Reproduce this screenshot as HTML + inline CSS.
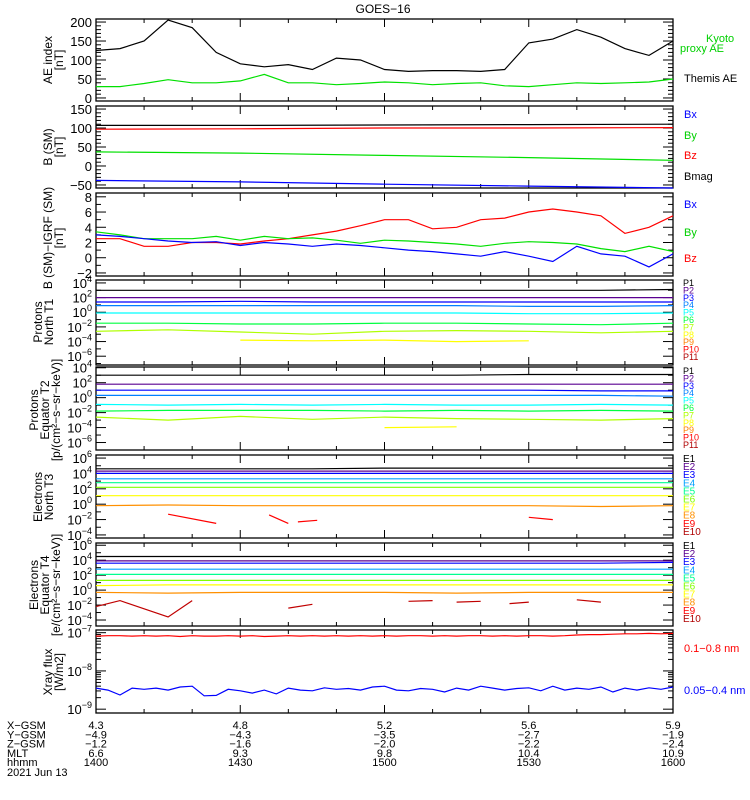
<!DOCTYPE html>
<html><head><meta charset="utf-8"><style>
html,body{margin:0;padding:0;background:#fff}
svg{display:block;font-family:"Liberation Sans",sans-serif}
</style></head><body>
<svg id="chart" width="750" height="800" viewBox="0 0 750 800">
<text x="383" y="13" font-size="12" text-anchor="middle">GOES−16</text>
</svg>
<script>
// ---------- data ----------
const aeTimes=[0,5,10,15,20,25,30,35,40,45,50,55,60,65,70,75,80,85,90,95,100,105,110,115,120];
const themisAE=[125,130,150,205,185,120,90,82,88,75,105,100,75,70,72,72,70,75,145,155,180,160,130,112,150];
const kyotoAE=[30,30,38,48,40,40,45,62,40,40,35,38,42,40,35,38,40,32,30,35,40,38,40,42,50];
const bTimes=[0,30,60,90,120];
const bBx=[-38,-42,-48,-53,-58];
const bBy=[37,34,28,22,15];
const bBz=[97,98,100,100,101];
const bMag=[107,107,108,109,110];
const dTimes=[0,5,10,15,20,25,30,35,40,45,50,55,60,65,70,75,80,85,90,95,100,105,110,115,120];
const dBx=[3,2.8,2.5,2.2,2,2.1,1.6,2,1.8,1.5,1.8,1.6,1.3,1,0.8,0.5,0.2,0.8,0.2,-0.5,1.5,0.5,0.2,-1.2,0.5];
const dBy=[3.4,3,2.5,2.5,2.5,2.8,2.3,2.8,2.5,2.6,2.3,1.9,2.3,2.2,2,1.8,1.5,1.9,2.1,2.0,1.8,1.2,0.8,1.5,0.8];
const dBz=[2.5,2.5,1.5,1.5,2,2,1.8,2.2,2.5,3,3.5,4.2,5,5,3.8,4,5,5.2,6,6.4,6,5.5,3.2,4,5.5];
const fTimes=[0,15,30,45,60,75,90,105,120];
const p1T1=[[3,3,3,3,3,3,3,3,3.1],[2,2,2,2,2,2,2,2,2],[1.4,1.4,1.5,1.4,1.4,1.4,1.4,1.4,1.4],[0.9,0.9,0.9,0.9,0.9,0.9,0.8,0.8,0.9],[-0.1,-0.1,-0.1,-0.1,-0.1,-0.1,-0.2,-0.2,-0.1],[-1.5,-1.5,-1.6,-1.6,-1.5,-1.5,-1.6,-1.7,-1.5],[-2.6,-2.4,-2.7,-3,-2.6,-2.5,-2.6,-2.8,-2.6],[null,null,-3.8,-3.9,-3.8,-4,-3.9,null,null]];
const p2T2=[[3,3,3,3,3,3,3.1,3.1,3.1],[1.8,1.8,1.8,1.8,1.8,1.8,1.8,1.8,1.8],[1,1,1,1,1,1,1,0.9,0.9],[0.3,0.3,0.3,0.3,0.3,0.3,0.3,0.3,0.2],[-0.9,-1,-0.9,-1,-0.9,-1,-1,-0.9,-1],[-1.8,-1.7,-1.7,-1.7,-1.8,-1.7,-1.8,-1.7,-1.8],[-2.6,-3,-2.5,-2.9,-2.6,-2.8,-2.9,-3,-2.8],[null,null,-3.9,null,-4,-3.9,null,null,null]];
const e3T3=[[4.6,4.6,4.6,4.6,4.7,4.7,4.7,4.7,4.7],[4.3,4.3,4.3,4.3,4.3,4.3,4.3,4.3,4.3],[4,4,4,4,4,4,4,4,4],[3.3,3.3,3.3,3.3,3.3,3.3,3.3,3.3,3.3],[2.8,2.8,2.8,2.8,2.8,2.8,2.8,2.8,2.8],[2.2,2.2,2.2,2.2,2.2,2.2,2.2,2.2,2.2],[1.1,1.1,1.1,1.1,1.1,1.1,1.1,1.1,1.1],[-0.2,-0.1,-0.2,-0.2,-0.2,-0.2,-0.2,-0.3,-0.2]];
const e9Times=[15,25,26,36,40,41,42,46,47,90,95];
const e9Vals=[-1.3,-2.5,null,-1.4,-2.5,null,-2.3,-2.1,null,-1.7,-2.0];
const e4T4=[[4.5,4.5,4.5,4.5,4.5,4.5,4.5,4.5,4.5],[3.9,3.9,3.9,3.9,3.9,3.9,3.9,3.9,3.9],[3.6,3.6,3.6,3.6,3.6,3.6,3.6,3.6,3.7],[2.8,2.8,2.8,2.8,2.8,2.8,2.8,2.8,2.8],[2.1,2.1,2.1,2.1,2.1,2.1,2.1,2.1,2.1],[1.3,1.3,1.3,1.3,1.3,1.3,1.3,1.3,1.3],[0.6,0.7,0.7,0.7,0.7,0.7,0.7,0.7,0.7],[-0.3,-0.4,-0.3,-0.3,-0.3,-0.4,-0.3,-0.3,-0.3]];
const e10Times=[0,5,15,20,30,31,40,45,46,65,70,71,75,80,81,86,90,91,100,105];
const e10Vals=[-2.2,-1.4,-3.6,-1.4,null,null,-2.4,-1.9,null,-1.5,-1.4,null,-1.6,-1.5,null,-1.8,-1.6,null,-1.3,-1.6];
const xTimes=[0,2.5,5,7.5,10,12.5,15,17.5,20,22.5,25,27.5,30,32.5,35,37.5,40,42.5,45,47.5,50,52.5,55,57.5,60,62.5,65,67.5,70,72.5,75,77.5,80,82.5,85,87.5,90,92.5,95,97.5,100,102.5,105,107.5,110,112.5,115,117.5,120];
const xLong=[-7.09,-7.08,-7.08,-7.09,-7.08,-7.09,-7.08,-7.1,-7.08,-7.09,-7.09,-7.08,-7.09,-7.08,-7.1,-7.09,-7.08,-7.09,-7.08,-7.09,-7.08,-7.09,-7.08,-7.09,-7.08,-7.09,-7.08,-7.08,-7.09,-7.08,-7.09,-7.08,-7.08,-7.09,-7.08,-7.09,-7.08,-7.08,-7.09,-7.08,-7.06,-7.05,-7.05,-7.04,-7.03,-7.03,-7.02,-7.03,-7.02];
const xShort=[-8.45,-8.5,-8.63,-8.45,-8.48,-8.45,-8.5,-8.42,-8.4,-8.65,-8.64,-8.48,-8.52,-8.58,-8.5,-8.6,-8.45,-8.5,-8.52,-8.44,-8.48,-8.46,-8.5,-8.42,-8.4,-8.5,-8.52,-8.46,-8.48,-8.55,-8.45,-8.5,-8.4,-8.45,-8.5,-8.46,-8.44,-8.52,-8.4,-8.5,-8.45,-8.48,-8.42,-8.55,-8.45,-8.5,-8.44,-8.48,-8.42];
const tickVals=[["4.3","−4.9","−1.2","6.6","1400"],["4.8","−4.3","−1.6","9.3","1430"],["5.2","−3.5","−2.0","9.8","1500"],["5.6","−2.7","−2.2","10.4","1530"],["5.9","−1.9","−2.4","10.9","1600"]];
// ---------- layout ----------
const svg=document.getElementById('chart');
const NS='http://www.w3.org/2000/svg';
const X0=96,X1=673;
function xs(t){return X0+(X1-X0)*t/120;}
function mk(tag,attrs,parent){const e=document.createElementNS(NS,tag);for(const k in attrs)e.setAttribute(k,attrs[k]);(parent||svg).appendChild(e);return e;}
function panel(top,h,lo,hi){return {top:top,h:h,lo:lo,hi:hi,y:v=>top+h*(hi-v)/(hi-lo)};}
function series(p,times,vals,color,name){
  let d='',pen=false;
  for(let i=0;i<times.length;i++){const v=vals[i];if(v===null||v===undefined){pen=false;continue;}
    d+=(pen?'L':'M')+xs(times[i]).toFixed(1)+' '+p.y(v).toFixed(1)+' ';pen=true;}
  const el=mk('path',{d:d,fill:'none',stroke:color,'stroke-width':1.2});
  
  
}
function frame(p,name){
  const g=mk('g',{});
  
  
  mk('rect',{x:X0,y:p.top,width:X1-X0,height:p.h,fill:'none',stroke:'#000','stroke-width':1.3},g);
  for(let t=0;t<=120;t+=10){const L=(t%30===0)?8:4;const x=xs(t);
    mk('line',{x1:x,y1:p.top,x2:x,y2:p.top+L,stroke:'#000'},g);
    mk('line',{x1:x,y1:p.top+p.h,x2:x,y2:p.top+p.h-L,stroke:'#000'},g);}
  return g;
}
function linTicks(p,g,major,minor){
  for(let v=Math.ceil(p.lo/minor)*minor;v<=p.hi+1e-9;v+=minor){const y=p.y(v);
    const isM=Math.abs(v/major-Math.round(v/major))<1e-6;const L=isM?10:5;
    mk('line',{x1:X0,y1:y,x2:X0+L,y2:y,stroke:'#000'},g);
    mk('line',{x1:X1,y1:y,x2:X1-L,y2:y,stroke:'#000'},g);
    if(isM){const t=mk('text',{x:X0-4,y:y+5,'font-size':13,'text-anchor':'end'},g);t.textContent=String(Math.round(v)).replace('-','−');}}
}
function logTicks(p,g,labStep){
  for(let v=Math.ceil(p.lo);v<=p.hi+1e-9;v++){const y=p.y(v);const lab=((v%labStep)+labStep)%labStep===0;
    mk('line',{x1:X0,y1:y,x2:X0+(lab?10:5),y2:y,stroke:'#000'},g);
    mk('line',{x1:X1,y1:y,x2:X1-(lab?10:5),y2:y,stroke:'#000'},g);
    if(lab&&y>p.top-3&&y<p.top+p.h+3){const t=mk('text',{x:X0-4,y:y+5,'font-size':13,'text-anchor':'end'},g);
      t.innerHTML='10<tspan dy="-6" font-size="9">'+String(v).replace('-','−')+'</tspan>';}}
}
function ylab(lines,cx,cy,name){
  const t=mk('text',{transform:'translate('+cx+','+cy+') rotate(-90)','font-size':12,'text-anchor':'middle'});
  
  
  lines.forEach((s,i)=>{const ts=mk('tspan',{x:0,dy:i?11:0},t);ts.textContent=s;});
}
function rlab(txt,x,y,color,name,size){
  const t=mk('text',{x:x,y:y,'font-size':size||11,fill:color});t.textContent=txt;
  
  
}
// Panel 1 AE
const P1=panel(19,82,-8,208);let g=frame(P1,'ae-index-panel');linTicks(P1,g,50,10);
series(P1,aeTimes,kyotoAE,'#00e000','kyoto-proxy-ae-line');
series(P1,aeTimes,themisAE,'#000','themis-ae-line');
ylab(['AE index','[nT]'],52,60,'ae-y-axis-title');
rlab('Kyoto',706,42,'#00d000','legend-kyoto');rlab('proxy AE',680,52,'#00d000','legend-proxy-ae');rlab('Themis AE',684,82,'#000','legend-themis-ae');
// Panel 2 B
const P2=panel(106,82,-58,158);g=frame(P2,'b-sm-panel');linTicks(P2,g,50,10);
series(P2,bTimes,bMag,'#000','bmag-line');series(P2,bTimes,bBz,'#f00','bz-line');series(P2,bTimes,bBy,'#00e000','by-line');series(P2,bTimes,bBx,'#00f','bx-line');
ylab(['B (SM)','[nT]'],52,147,'b-sm-y-axis-title');
rlab('Bx',684,118,'#00f','legend-bx');rlab('By',684,139,'#00d000','legend-by');rlab('Bz',684,159,'#f00','legend-bz');rlab('Bmag',684,180,'#000','legend-bmag');
// Panel 3 dB
const P3=panel(193,83,-2.4,8.5);g=frame(P3,'b-minus-igrf-panel');linTicks(P3,g,2,1);
series(P3,dTimes,dBz,'#f00','dbz-line');series(P3,dTimes,dBy,'#00e000','dby-line');series(P3,dTimes,dBx,'#00f','dbx-line');
ylab(['B (SM)−IGRF (SM)','[nT]'],52,238,'db-y-axis-title');
rlab('Bx',684,208,'#00f','legend-dbx');rlab('By',684,236,'#00d000','legend-dby');rlab('Bz',684,262,'#f00','legend-dbz');
const pCols=['#000','#5a0090','#0000ff','#0080ff','#00ffff','#00ff40','#b0ff00','#ffff00','#ff8000','#ff0000','#b00000'];
const eCols=['#000','#5a0090','#0000ff','#00a0ff','#00ff90','#80ff00','#ffff00','#ff9000','#ff0000','#b00000'];
// Panel 4
const P4=panel(280,85,-7.2,4.4);g=frame(P4,'protons-north-t1-panel');logTicks(P4,g,2);
p1T1.forEach((v,i)=>series(P4,fTimes,v,pCols[i],'proton-t1-p'+(i+1)));
ylab(['Protons','North T1'],42,322,'protons-t1-y-axis-title');
for(let i=0;i<11;i++)rlab('P'+(i+1),683,286+i*7.4,pCols[i],'legend-t1-p'+(i+1),9);
// Panel 5
const P5=panel(367,83,-7,4.1);g=frame(P5,'protons-equator-t2-panel');logTicks(P5,g,2);
p2T2.forEach((v,i)=>series(P5,fTimes,v,pCols[i],'proton-t2-p'+(i+1)));
ylab(['Protons','Equator T2','[p/(cm²−s−sr−keV)]'],38,410,'protons-t2-y-axis-title');
for(let i=0;i<11;i++)rlab('P'+(i+1),683,374+i*7.4,pCols[i],'legend-t2-p'+(i+1),9);
// Panel 6
const P6=panel(455,83,-4.4,6.4);g=frame(P6,'electrons-north-t3-panel');logTicks(P6,g,2);
e3T3.forEach((v,i)=>series(P6,fTimes,v,eCols[i],'electron-t3-e'+(i+1)));
series(P6,e9Times,e9Vals,'#ff0000','electron-t3-e9-segments');
ylab(['Electrons','North T3'],42,497,'electrons-t3-y-axis-title');
for(let i=0;i<10;i++)rlab('E'+(i+1),683,462+i*8.1,eCols[i],'legend-t3-e'+(i+1),10);
// Panel 7
const P7=panel(543,83,-4.8,6.3);g=frame(P7,'electrons-equator-t4-panel');logTicks(P7,g,2);
e4T4.forEach((v,i)=>series(P7,fTimes,v,eCols[i],'electron-t4-e'+(i+1)));
series(P7,e10Times,e10Vals,'#c00000','electron-t4-e10-segments');
ylab(['Electrons','Equator T4','[e/(cm²−s−sr−keV)]'],38,585,'electrons-t4-y-axis-title');
for(let i=0;i<10;i++)rlab('E'+(i+1),683,549+i*8.1,eCols[i],'legend-t4-e'+(i+1),10);
// Panel 8
const P8=panel(630,83,-9.1,-6.93);g=frame(P8,'xray-flux-panel');
for(let d=-9;d<=-7;d++){for(let m=1;m<10;m++){const v=d+Math.log10(m);if(v>P8.hi||v<P8.lo)continue;const y=P8.y(v);const L=m===1?10:5;
  mk('line',{x1:X0,y1:y,x2:X0+L,y2:y,stroke:'#000'},g);mk('line',{x1:X1,y1:y,x2:X1-L,y2:y,stroke:'#000'},g);
  if(m===1){const t=mk('text',{x:X0-4,y:y+5,'font-size':13,'text-anchor':'end'},g);t.innerHTML='10<tspan dy="-6" font-size="9">'+String(d).replace('-','−')+'</tspan>';}}}
series(P8,xTimes,xLong,'#f00','xray-long-line');series(P8,xTimes,xShort,'#00f','xray-short-line');
ylab(['Xray flux','[W/m2]'],52,672,'xray-y-axis-title');
rlab('0.1−0.8 nm',684,652,'#f00','legend-xray-long');rlab('0.05−0.4 nm',684,694,'#00f','legend-xray-short');
// Bottom axis labels
const rowNames=['X−GSM','Y−GSM','Z−GSM','MLT','hhmm'];
rowNames.forEach((s,i)=>{const t=mk('text',{x:7,y:729+i*9.3,'font-size':11});t.textContent=s;
  
  });
const dt=mk('text',{x:7,y:776,'font-size':11});dt.textContent='2021 Jun 13';


tickVals.forEach((col,j)=>{col.forEach((s,i)=>{const t=mk('text',{x:xs(j*30),y:729+i*9.3,'font-size':11,'text-anchor':'middle'});t.textContent=s;
  
  });});
</script>
</body></html>
